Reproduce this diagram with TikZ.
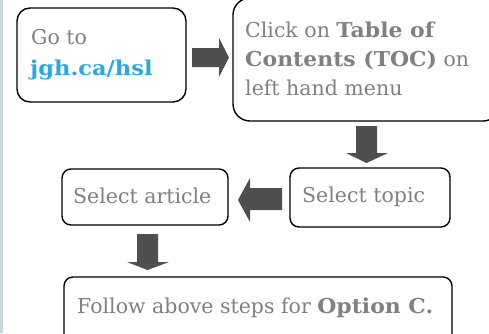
\documentclass[tikz,border=0pt]{standalone}
\usepackage{fontspec}
\setmainfont{DejaVu Serif}
\newcommand\widebold[1]{{\bfseries\addfontfeature{FakeStretch=1.07}#1}}
\definecolor{txtgray}{HTML}{808080}
\definecolor{linkblue}{HTML}{29A9E1}
\definecolor{arrowgray}{HTML}{4F4F4F}
\definecolor{stripcol}{HTML}{C8D8DC}
\tikzset{
  stepbox/.style={draw=black, line width=1.4pt, rounded corners=#1, fill=white},
  stepbox/.default=9pt,
  steptext/.style={anchor=base west, inner sep=0pt, text=txtgray, font=\fontsize{20.5}{24}\selectfont},
  blockarrow/.style={fill=arrowgray, draw=none}
}
\begin{document}
\begin{tikzpicture}[x=1pt,y=-1pt]
\useasboundingbox (0,0) rectangle (489,333);
\fill[stripcol] (0,0) rectangle (2.5,333);
% boxes
\draw[stepbox=13pt] (17,8) rectangle (186,102);
\draw[stepbox=17pt] (233,-2) rectangle (500,121);
\draw[stepbox] (62,169) rectangle (228,225);
\draw[stepbox] (290,168) rectangle (450,227);
\draw[stepbox] (64,277) rectangle (452,345);
% texts
\node[steptext] (t1a) at (31,44) {Go to};
\node[steptext, text=linkblue] (t1b) at (30,75) {{\bfseries\addfontfeature{FakeStretch=1.1}jgh.ca/hsl}};
\node[steptext] (t2a) at (245,37) {Click on \widebold{Table of}};
\node[steptext] (t2b) at (245,66) {\widebold{Contents (TOC)} on};
\node[steptext] (t2c) at (245,95) {left hand menu};
\node[steptext] (t3) at (302,202) {Select topic};
\node[steptext] (t4) at (73,203) {Select article};
\node[steptext] (t5) at (77,313) {Follow above steps for \widebold{Option C.}};
% block arrows
\fill[blockarrow] (192,48) -- (219,48) -- (219,38) -- (229,57.5) -- (219,77) -- (219,67) -- (192,67) -- cycle;
\fill[blockarrow] (356,126) -- (377,126) -- (377,153) -- (388,153) -- (366.5,163) -- (346,153) -- (356,153) -- cycle;
\fill[blockarrow] (282,188) -- (250,188) -- (250,178) -- (238,200) -- (250,222) -- (250,210) -- (282,210) -- cycle;
\fill[blockarrow] (137,234) -- (158,234) -- (158,262) -- (169,262) -- (147.5,270) -- (127,262) -- (137,262) -- cycle;
\end{tikzpicture}
\end{document}
